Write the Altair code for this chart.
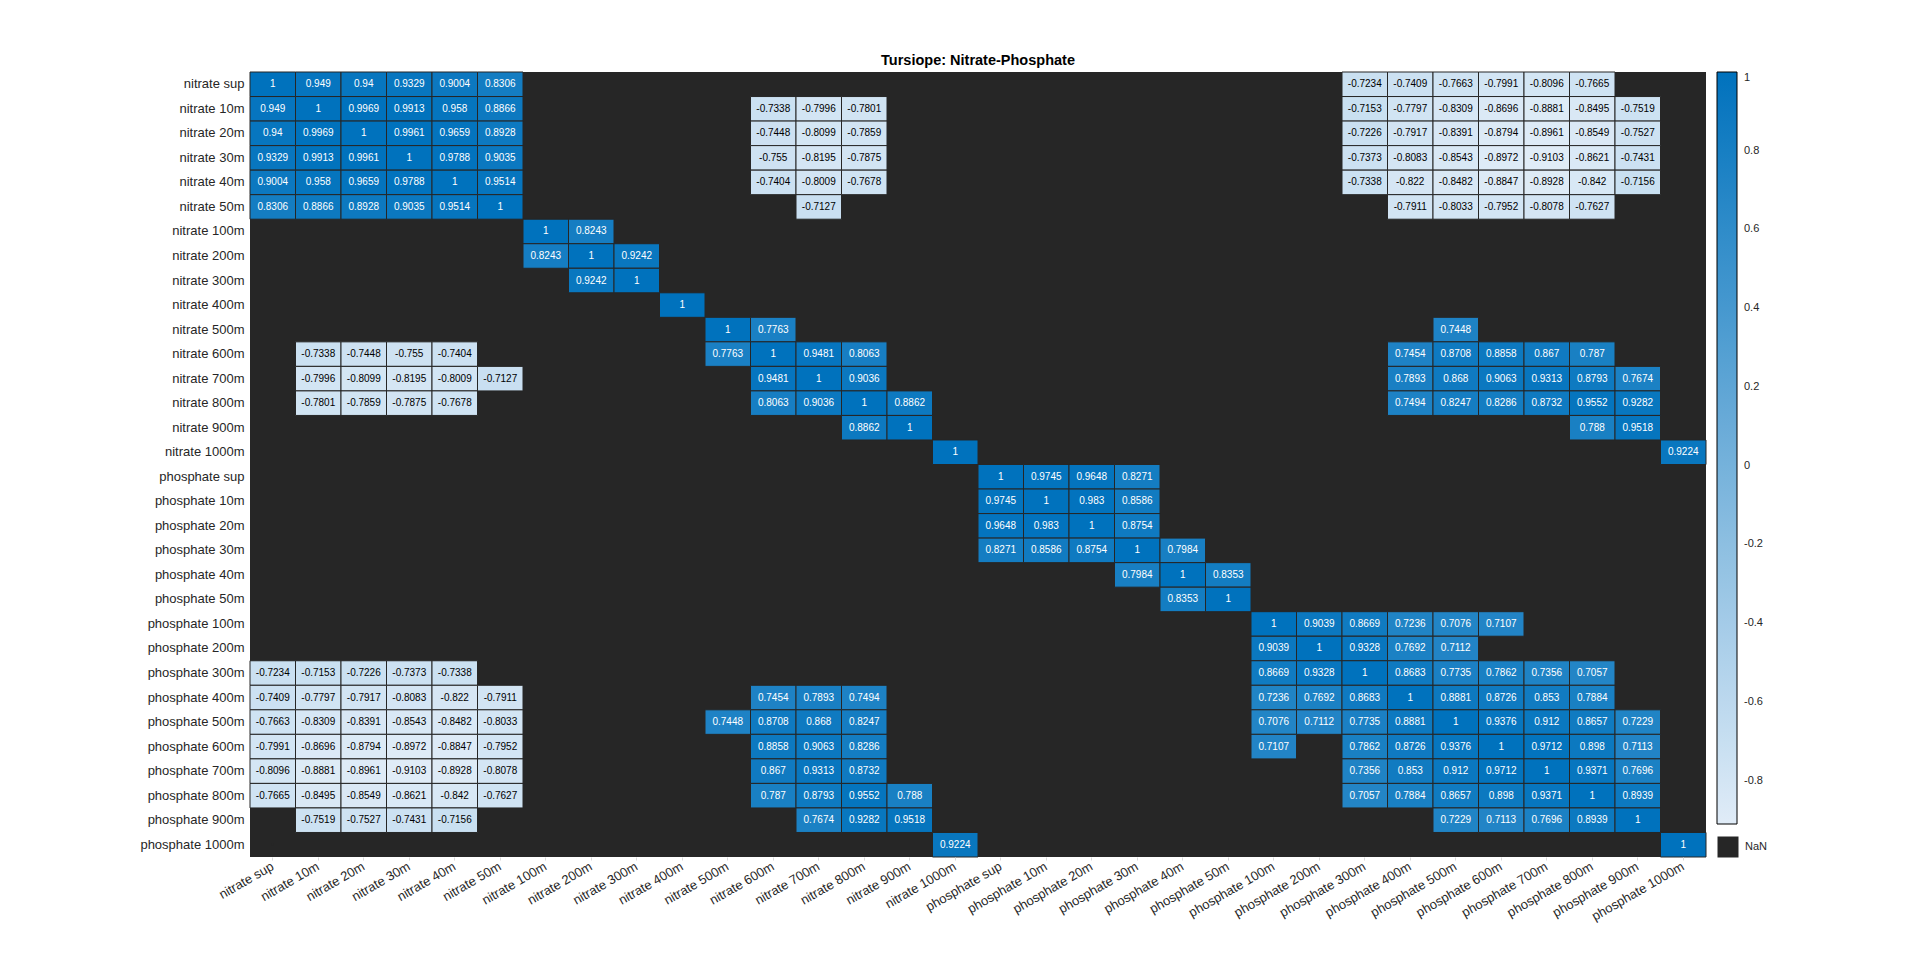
import altair as alt
import pandas as pd

labels = ["nitrate sup", "nitrate 10m", "nitrate 20m", "nitrate 30m", "nitrate 40m", "nitrate 50m",
          "nitrate 100m", "nitrate 200m", "nitrate 300m", "nitrate 400m", "nitrate 500m", "nitrate 600m",
          "nitrate 700m", "nitrate 800m", "nitrate 900m", "nitrate 1000m",
          "phosphate sup", "phosphate 10m", "phosphate 20m", "phosphate 30m", "phosphate 40m", "phosphate 50m",
          "phosphate 100m", "phosphate 200m", "phosphate 300m", "phosphate 400m", "phosphate 500m",
          "phosphate 600m", "phosphate 700m", "phosphate 800m", "phosphate 900m", "phosphate 1000m"]

# row index -> {column index: correlation}
row_00 = {0: 1, 1: 0.949, 2: 0.94, 3: 0.9329, 4: 0.9004, 5: 0.8306,
          24: -0.7234, 25: -0.7409, 26: -0.7663, 27: -0.7991, 28: -0.8096, 29: -0.7665}
row_01 = {0: 0.949, 1: 1, 2: 0.9969, 3: 0.9913, 4: 0.958, 5: 0.8866, 11: -0.7338, 12: -0.7996, 13: -0.7801,
          24: -0.7153, 25: -0.7797, 26: -0.8309, 27: -0.8696, 28: -0.8881, 29: -0.8495, 30: -0.7519}
row_02 = {0: 0.94, 1: 0.9969, 2: 1, 3: 0.9961, 4: 0.9659, 5: 0.8928, 11: -0.7448, 12: -0.8099, 13: -0.7859,
          24: -0.7226, 25: -0.7917, 26: -0.8391, 27: -0.8794, 28: -0.8961, 29: -0.8549, 30: -0.7527}
row_03 = {0: 0.9329, 1: 0.9913, 2: 0.9961, 3: 1, 4: 0.9788, 5: 0.9035, 11: -0.755, 12: -0.8195, 13: -0.7875,
          24: -0.7373, 25: -0.8083, 26: -0.8543, 27: -0.8972, 28: -0.9103, 29: -0.8621, 30: -0.7431}
row_04 = {0: 0.9004, 1: 0.958, 2: 0.9659, 3: 0.9788, 4: 1, 5: 0.9514, 11: -0.7404, 12: -0.8009, 13: -0.7678,
          24: -0.7338, 25: -0.822, 26: -0.8482, 27: -0.8847, 28: -0.8928, 29: -0.842, 30: -0.7156}
row_05 = {0: 0.8306, 1: 0.8866, 2: 0.8928, 3: 0.9035, 4: 0.9514, 5: 1, 12: -0.7127,
          25: -0.7911, 26: -0.8033, 27: -0.7952, 28: -0.8078, 29: -0.7627}
row_06 = {6: 1, 7: 0.8243}
row_07 = {6: 0.8243, 7: 1, 8: 0.9242}
row_08 = {7: 0.9242, 8: 1}
row_09 = {9: 1}
row_10 = {10: 1, 11: 0.7763, 26: 0.7448}
row_11 = {1: -0.7338, 2: -0.7448, 3: -0.755, 4: -0.7404, 10: 0.7763, 11: 1, 12: 0.9481, 13: 0.8063,
          25: 0.7454, 26: 0.8708, 27: 0.8858, 28: 0.867, 29: 0.787}
row_12 = {1: -0.7996, 2: -0.8099, 3: -0.8195, 4: -0.8009, 5: -0.7127, 11: 0.9481, 12: 1, 13: 0.9036,
          25: 0.7893, 26: 0.868, 27: 0.9063, 28: 0.9313, 29: 0.8793, 30: 0.7674}
row_13 = {1: -0.7801, 2: -0.7859, 3: -0.7875, 4: -0.7678, 11: 0.8063, 12: 0.9036, 13: 1, 14: 0.8862,
          25: 0.7494, 26: 0.8247, 27: 0.8286, 28: 0.8732, 29: 0.9552, 30: 0.9282}
row_14 = {13: 0.8862, 14: 1, 29: 0.788, 30: 0.9518}
row_15 = {15: 1, 31: 0.9224}
row_16 = {16: 1, 17: 0.9745, 18: 0.9648, 19: 0.8271}
row_17 = {16: 0.9745, 17: 1, 18: 0.983, 19: 0.8586}
row_18 = {16: 0.9648, 17: 0.983, 18: 1, 19: 0.8754}
row_19 = {16: 0.8271, 17: 0.8586, 18: 0.8754, 19: 1, 20: 0.7984}
row_20 = {19: 0.7984, 20: 1, 21: 0.8353}
row_21 = {20: 0.8353, 21: 1}
row_22 = {22: 1, 23: 0.9039, 24: 0.8669, 25: 0.7236, 26: 0.7076, 27: 0.7107}
row_23 = {22: 0.9039, 23: 1, 24: 0.9328, 25: 0.7692, 26: 0.7112}
row_24 = {0: -0.7234, 1: -0.7153, 2: -0.7226, 3: -0.7373, 4: -0.7338,
          22: 0.8669, 23: 0.9328, 24: 1, 25: 0.8683, 26: 0.7735, 27: 0.7862, 28: 0.7356, 29: 0.7057}
row_25 = {0: -0.7409, 1: -0.7797, 2: -0.7917, 3: -0.8083, 4: -0.822, 5: -0.7911,
          11: 0.7454, 12: 0.7893, 13: 0.7494,
          22: 0.7236, 23: 0.7692, 24: 0.8683, 25: 1, 26: 0.8881, 27: 0.8726, 28: 0.853, 29: 0.7884}
row_26 = {0: -0.7663, 1: -0.8309, 2: -0.8391, 3: -0.8543, 4: -0.8482, 5: -0.8033,
          10: 0.7448, 11: 0.8708, 12: 0.868, 13: 0.8247,
          22: 0.7076, 23: 0.7112, 24: 0.7735, 25: 0.8881, 26: 1, 27: 0.9376, 28: 0.912, 29: 0.8657, 30: 0.7229}
row_27 = {0: -0.7991, 1: -0.8696, 2: -0.8794, 3: -0.8972, 4: -0.8847, 5: -0.7952,
          11: 0.8858, 12: 0.9063, 13: 0.8286,
          22: 0.7107, 24: 0.7862, 25: 0.8726, 26: 0.9376, 27: 1, 28: 0.9712, 29: 0.898, 30: 0.7113}
row_28 = {0: -0.8096, 1: -0.8881, 2: -0.8961, 3: -0.9103, 4: -0.8928, 5: -0.8078,
          11: 0.867, 12: 0.9313, 13: 0.8732,
          24: 0.7356, 25: 0.853, 26: 0.912, 27: 0.9712, 28: 1, 29: 0.9371, 30: 0.7696}
row_29 = {0: -0.7665, 1: -0.8495, 2: -0.8549, 3: -0.8621, 4: -0.842, 5: -0.7627,
          11: 0.787, 12: 0.8793, 13: 0.9552, 14: 0.788,
          24: 0.7057, 25: 0.7884, 26: 0.8657, 27: 0.898, 28: 0.9371, 29: 1, 30: 0.8939}
row_30 = {1: -0.7519, 2: -0.7527, 3: -0.7431, 4: -0.7156, 12: 0.7674, 13: 0.9282, 14: 0.9518,
          26: 0.7229, 27: 0.7113, 28: 0.7696, 29: 0.8939, 30: 1}
row_31 = {15: 0.9224, 31: 1}

rows = [row_00, row_01, row_02, row_03, row_04, row_05, row_06, row_07, row_08, row_09,
        row_10, row_11, row_12, row_13, row_14, row_15, row_16, row_17, row_18, row_19,
        row_20, row_21, row_22, row_23, row_24, row_25, row_26, row_27, row_28, row_29,
        row_30, row_31]

colorbar_ticks = [-0.8, -0.6, -0.4, -0.2, 0, 0.2, 0.4, 0.6, 0.8, 1]

records = []
for i, r in enumerate(rows):
    for j, v in r.items():
        records.append({"row": labels[i], "col": labels[j], "value": v, "txt": f"{v:g}"})
df = pd.DataFrame(records)
vmin = df["value"].min()
vmax = df["value"].max()

FONT = "Liberation Sans"
TXT = "#262626"

xenc = alt.X("col:N", sort=labels,
             scale=alt.Scale(domain=labels, paddingInner=0, paddingOuter=0),
             axis=alt.Axis(title=None, labelAngle=330, labelAlign="right", labelBaseline="middle",
                           labelFontSize=13, labelFont=FONT, labelColor=TXT, domain=False,
                           ticks=True, tickSize=3, tickColor="#d9d9d9", labelPadding=5))
yenc = alt.Y("row:N", sort=labels,
             scale=alt.Scale(domain=labels, paddingInner=0, paddingOuter=0),
             axis=alt.Axis(title=None, labelFontSize=13, labelFont=FONT, labelColor=TXT,
                           domain=False, ticks=False, labelPadding=6))

rects = alt.Chart(df).mark_rect(stroke="#262626", strokeWidth=1).encode(
    x=xenc, y=yenc,
    color=alt.Color("value:Q",
                    scale=alt.Scale(domain=[vmin, vmax], range=["#E0ECF7", "#0072BD"], interpolate="rgb"),
                    legend=alt.Legend(title=None, orient="none", legendX=1467, legendY=0,
                                      direction="vertical", gradientLength=752, gradientThickness=20,
                                      gradientStrokeColor="black", gradientStrokeWidth=1,
                                      values=colorbar_ticks, labelExpr="'' + datum.value",
                                      labelFontSize=11, labelFont=FONT,
                                      labelColor=TXT, labelOffset=7, labelOverlap=False, padding=0))
)

texts = alt.Chart(df).mark_text(fontSize=10, font=FONT).encode(
    x=xenc, y=yenc, text="txt:N",
    color=alt.condition(alt.datum.value > 0, alt.value("white"), alt.value("black"))
)

nan_df = pd.DataFrame({"row": [labels[31]], "col": [labels[0]], "key": ["NaN"]})
nan_layer = alt.Chart(nan_df).mark_point(filled=True, size=4, color="#262626", opacity=1).encode(
    x=xenc, y=yenc,
    shape=alt.Shape("key:N", scale=alt.Scale(range=["square"]),
                    legend=alt.Legend(title=None, orient="none", legendX=1467, legendY=764,
                                      symbolType="square", symbolSize=441, symbolFillColor="#262626",
                                      symbolStrokeColor="#262626", symbolStrokeWidth=1, symbolOpacity=1,
                                      labelFontSize=11, labelFont=FONT, labelColor=TXT, labelOffset=6,
                                      padding=0))
)

chart = alt.layer(rects, texts, nan_layer).properties(
    width=1456, height=785,
    title=alt.TitleParams("Tursiope: Nitrate-Phosphate", fontSize=14.5, fontWeight="bold",
                          font=FONT, color="black", anchor="middle", offset=3),
    autosize=alt.AutoSizeParams(type="none"),
    padding={"left": 242, "top": 64, "right": 206, "bottom": 90},
).configure_view(fill="#262626", strokeWidth=0)

chart.save("out.html", embed_options={"renderer": "svg", "actions": False})
